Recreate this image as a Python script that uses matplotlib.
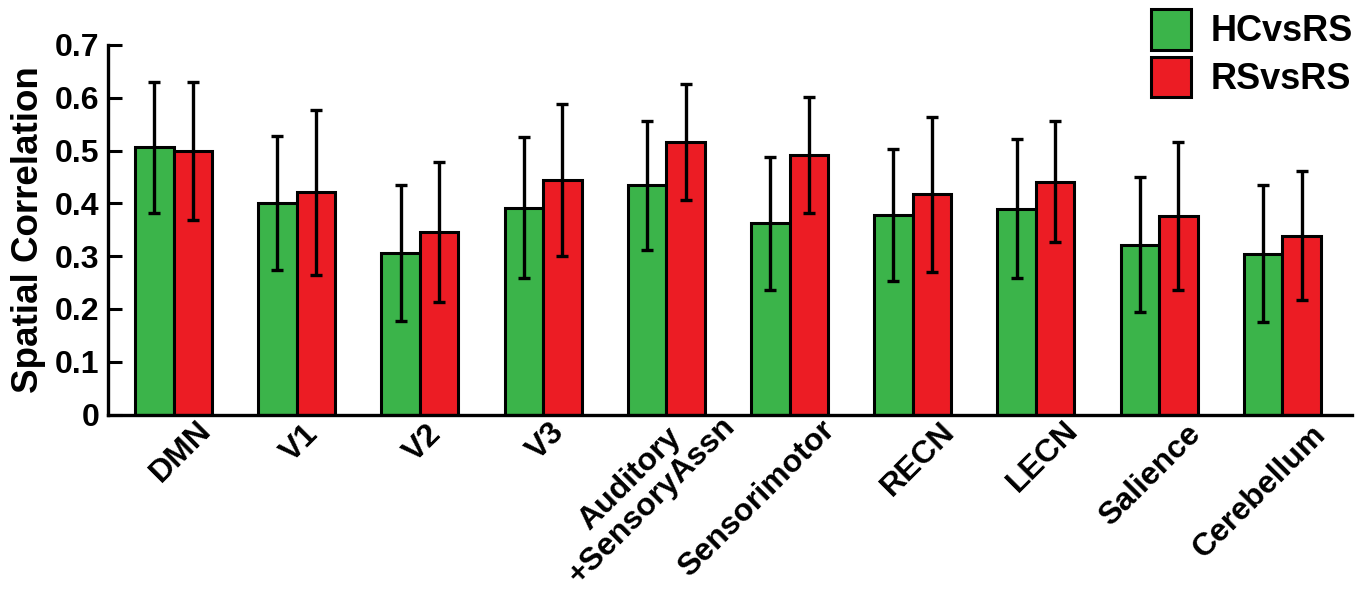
import matplotlib
matplotlib.use("Agg")
import matplotlib.pyplot as plt
import matplotlib.transforms as mtransforms
from matplotlib.patches import Patch
import numpy as np

categories = ["DMN", "V1", "V2", "V3", "Auditory\n+SensoryAssn", "Sensorimotor",
              "RECN", "LECN", "Salience", "Cerebellum"]
hc_vs_rs = [0.506, 0.400, 0.306, 0.392, 0.434, 0.362, 0.378, 0.390, 0.322, 0.305]
hc_vs_rs_sd = [0.124, 0.127, 0.128, 0.133, 0.122, 0.126, 0.125, 0.131, 0.128, 0.130]
rs_vs_rs = [0.499, 0.421, 0.346, 0.445, 0.517, 0.491, 0.417, 0.441, 0.376, 0.339]
rs_vs_rs_sd = [0.131, 0.156, 0.133, 0.144, 0.110, 0.110, 0.147, 0.115, 0.141, 0.122]
series_names = ["HCvsRS", "RSvsRS"]
yticks = [0, 0.1, 0.2, 0.3, 0.4, 0.5, 0.6, 0.7]
ytick_labels = ["0", "0.1", "0.2", "0.3", "0.4", "0.5", "0.6", "0.7"]

# layout: pixel offsets of each rotated category label from its tick
label_dx = [23, 6, 6, 6, 32, 30, 27, 27, 27, 29]
label_dy = [-1, -5, -5, -3, 25, 0, -2, -1, -4, -5]

GREEN = "#3bb44a"
RED = "#ec1c24"

plt.rcParams['font.family'] = ['Liberation Sans', 'DejaVu Sans']
plt.rcParams['font.weight'] = 'bold'

fig = plt.figure(figsize=(13.69, 5.95), dpi=100)
ax = fig.add_axes([108/1369, 1-414.5/595, (1352-108)/1369, (414.5-45)/595])

x = np.arange(len(categories))
w = 0.3125
ekw = dict(elinewidth=2.4, capthick=2.4, ecolor='black')
ax.bar(x - w/2, hc_vs_rs, w, color=GREEN, edgecolor='black', linewidth=2.2, zorder=2)
ax.bar(x + w/2, rs_vs_rs, w, color=RED, edgecolor='black', linewidth=2.2, zorder=2)
ax.errorbar(x - w/2, hc_vs_rs, yerr=hc_vs_rs_sd, fmt='none', capsize=4.5, zorder=3, **ekw)
ax.errorbar(x + w/2, rs_vs_rs, yerr=rs_vs_rs_sd, fmt='none', capsize=4.5, zorder=3, **ekw)

ax.set_xlim(-0.532, 9.566)
ax.set_ylim(0, 0.7)
ax.set_yticks(yticks)
ax.set_yticklabels(ytick_labels, fontsize=23, fontweight='bold')
ax.set_xticks(x)
ax.set_xticklabels([])
ax.tick_params(axis='y', direction='in', length=10, width=2.2, pad=6)
ax.tick_params(axis='x', length=0, pad=0)

# category labels, rotated, placed at each group position
base = ax.get_xaxis_transform()
for xi, cat, dx, dy in zip(x, categories, label_dx, label_dy):
    off = mtransforms.ScaledTranslation(dx/100, dy/100, fig.dpi_scale_trans)
    ax.text(xi, 0, cat, transform=base + off, fontsize=23, fontweight='bold',
            rotation=45, ha='right', va='top', rotation_mode='anchor',
            linespacing=1.0, multialignment='center', clip_on=False)

for s in ['top', 'right']:
    ax.spines[s].set_visible(False)
for s in ['left', 'bottom']:
    ax.spines[s].set_linewidth(2.4)
ax.set_ylabel("Spatial Correlation", fontsize=26.5, fontweight='bold')
ax.yaxis.set_label_coords(-0.050, 0.5)

handles = [Patch(facecolor=GREEN, edgecolor='black', linewidth=2.2),
           Patch(facecolor=RED, edgecolor='black', linewidth=2.2)]
fig.legend(handles, series_names, loc='upper left', bbox_to_anchor=(1151/1369, 1-9/595),
           frameon=False, handlelength=1.1, handleheight=1.35,
           labelspacing=0.2, handletextpad=0.55, borderpad=0, borderaxespad=0,
           prop={'weight': 'bold', 'size': 26})

fig.savefig("out.png", dpi=100)
